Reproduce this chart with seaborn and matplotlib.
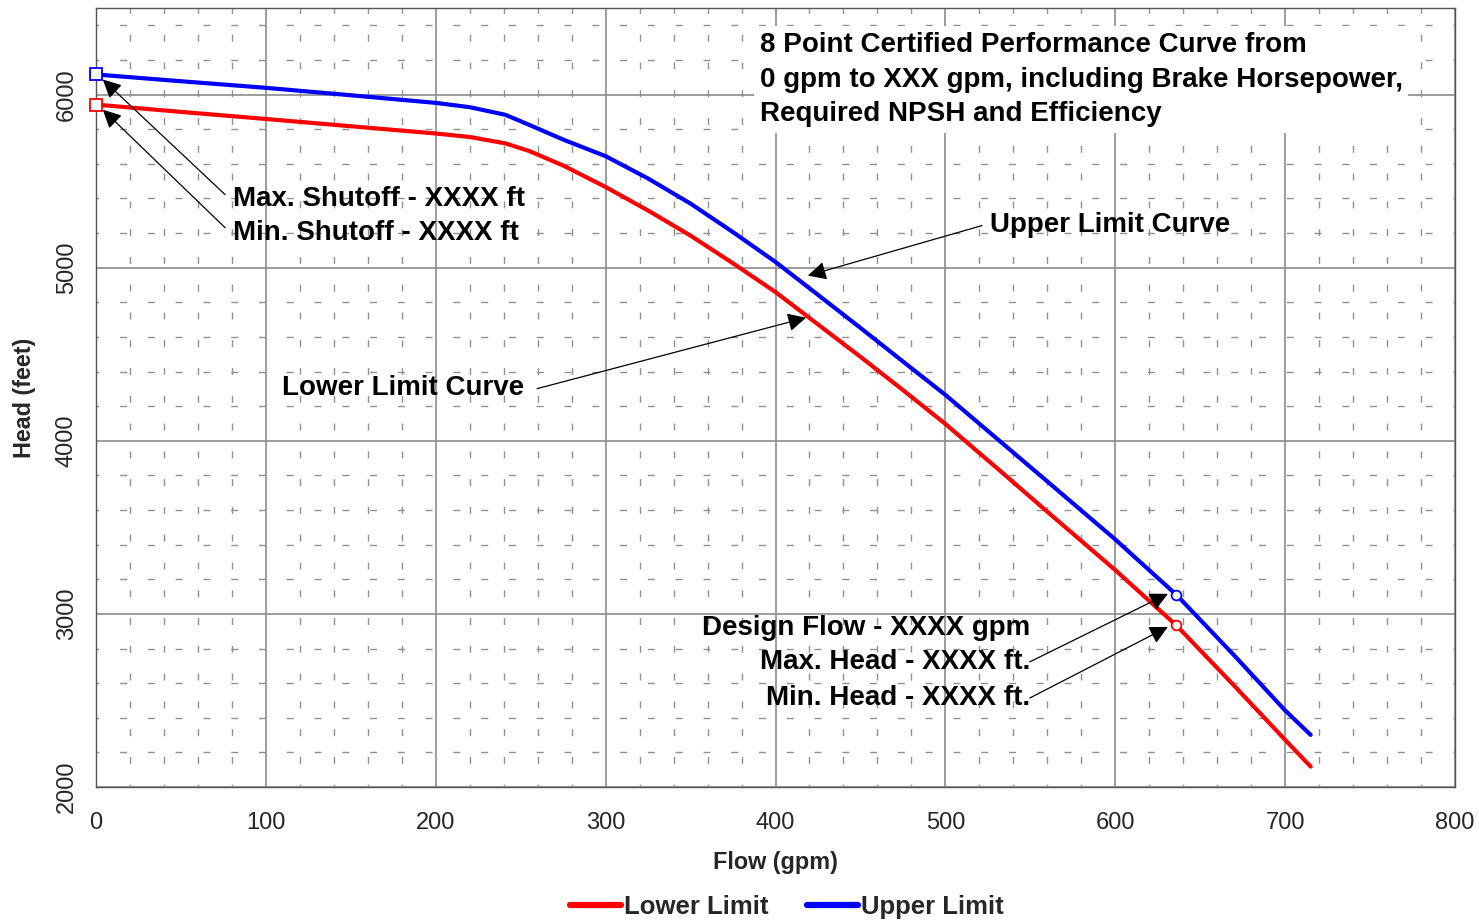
import numpy as np
import pandas as pd

import matplotlib
matplotlib.use('Agg')
import matplotlib.pyplot as plt
from matplotlib.ticker import MultipleLocator
import seaborn as sns

sns.set_style('white')
plt.rcParams['font.family'] = ['Liberation Sans', 'DejaVu Sans']

# ── Data ──────────────────────────────────────────────────────────────────────
flow_gpm   = [0, 50, 100, 150, 200, 220, 241, 255, 275, 300, 325, 350, 375,
              400, 425, 450, 475, 500, 530, 560, 600, 636, 670, 700, 715]
upper_head = [6116, 6077, 6039, 5996, 5952, 5927, 5883, 5825, 5740, 5644, 5515,
              5370, 5205, 5033, 4843, 4652, 4458, 4265, 4015, 3765, 3430, 3110,
              2760, 2442, 2301]
lower_head = [5942, 5900, 5859, 5817, 5775, 5755, 5718, 5674, 5590, 5466, 5330,
              5185, 5025, 4859, 4672, 4485, 4293, 4097, 3845, 3590, 3253, 2933,
              2585, 2272, 2118]

shutoff_flow  = 0
design_flow   = 636
design_upper  = 3110
design_lower  = 2933

RED  = '#ff0000'
BLUE = '#0000ff'

df = pd.DataFrame({
    'flow':  flow_gpm * 2,
    'head':  upper_head + lower_head,
    'curve': ['Upper Limit'] * len(flow_gpm) + ['Lower Limit'] * len(flow_gpm),
})

fig = plt.figure(figsize=(14.79, 9.21), dpi=100)
ax = fig.add_axes([0.0649, 0.1455, 0.9189, 0.8458])

# grid: solid majors, sparse dashed minors
ax.xaxis.set_major_locator(MultipleLocator(100))
ax.xaxis.set_minor_locator(MultipleLocator(20))
ax.yaxis.set_major_locator(MultipleLocator(1000))
ax.yaxis.set_minor_locator(MultipleLocator(200))
ax.grid(which='major', color='#8c8c8c', linewidth=1.2, zorder=0)
ax.grid(which='minor', color='#909090', linewidth=1.0,
        linestyle=(3, (5, 15)), zorder=0)
ax.set_axisbelow(True)

sns.lineplot(data=df[df['curve'] == 'Lower Limit'], x='flow', y='head',
             color=RED, linewidth=3.0, ax=ax, label='Lower Limit', zorder=3)
sns.lineplot(data=df[df['curve'] == 'Upper Limit'], x='flow', y='head',
             color=BLUE, linewidth=3.0, ax=ax, label='Upper Limit', zorder=3)

# shutoff squares and design-point circles
ax.plot([shutoff_flow], [upper_head[0]], marker='s', ms=8, mfc='white',
        mec=BLUE, mew=1.3, zorder=5, clip_on=False)
ax.plot([shutoff_flow], [lower_head[0]], marker='s', ms=8, mfc='white',
        mec=RED, mew=1.3, zorder=5, clip_on=False)
ax.plot([design_flow], [design_upper], marker='o', ms=7, mfc='white',
        mec=BLUE, mew=1.3, zorder=5)
ax.plot([design_flow], [design_lower], marker='o', ms=7, mfc='white',
        mec=RED, mew=1.3, zorder=5)

ax.set_xlim(0, 800)
ax.set_ylim(2000, 6500)

for s in ax.spines.values():
    s.set_color('#555555')
    s.set_linewidth(1.0)

ax.tick_params(axis='x', which='major', labelsize=17, length=0, pad=18)
ax.tick_params(axis='x', which='minor', length=0)
ax.tick_params(axis='y', which='major', labelsize=17, length=10,
               direction='inout', pad=8, color='#333333')
ax.tick_params(axis='y', which='minor', length=5, direction='inout',
               color='#333333')
ax.set_yticks([2000, 3000, 4000, 5000, 6000])
for lab in ax.get_yticklabels():
    lab.set_rotation(90)
    lab.set_va('center')

ax.set_xlabel('Flow (gpm)', fontsize=16.8, fontweight='bold', labelpad=12)
ax.set_ylabel('Head (feet)', fontsize=16.8, fontweight='bold', labelpad=14)

# ── Annotations ───────────────────────────────────────────────────────────────
ann_font = dict(fontsize=20, fontweight='bold', color='black')
arrow = dict(arrowstyle='-|>', color='black', lw=0.9,
             mutation_scale=28, shrinkA=0, shrinkB=0)

ax.annotate('', xy=(4, 6087), xytext=(76, 5422), arrowprops=arrow, zorder=6)
ax.annotate('', xy=(4, 5913), xytext=(76, 5231), arrowprops=arrow, zorder=6)
ax.text(80.6, 5399, 'Max. Shutoff - XXXX ft', ha='left', va='center', **ann_font)
ax.text(80.6, 5202, 'Min. Shutoff - XXXX ft', ha='left', va='center', **ann_font)

ax.annotate('', xy=(419, 4954), xytext=(521.5, 5243), arrowprops=arrow, zorder=6)
ax.text(526, 5249, 'Upper Limit Curve', ha='left', va='center', **ann_font)

ax.annotate('', xy=(418, 4711), xytext=(259.6, 4301), arrowprops=arrow, zorder=6)
ax.text(109.5, 4306, 'Lower Limit Curve', ha='left', va='center', **ann_font)

ax.annotate('', xy=(631, 3116), xytext=(549.7, 2723), arrowprops=arrow, zorder=6)
ax.annotate('', xy=(631, 2925), xytext=(549.7, 2514), arrowprops=arrow, zorder=6)
ax.text(549.7, 2919, 'Design Flow - XXXX gpm', ha='right', va='center', **ann_font)
ax.text(549.7, 2723, 'Max. Head - XXXX ft.', ha='right', va='center', **ann_font)
ax.text(549.7, 2514, 'Min. Head - XXXX ft.', ha='right', va='center', **ann_font)

ax.text(390.8, 6087,
        '8 Point Certified Performance Curve from\n'
        '0 gpm to XXX gpm, including Brake Horsepower,\n'
        'Required NPSH and Efficiency',
        ha='left', va='center', linespacing=1.43, zorder=6,
        bbox=dict(facecolor='white', edgecolor='none', pad=4),
        **ann_font)

# legend below the axes
ax.get_legend().remove()
handles, labels = ax.get_legend_handles_labels()
fig.legend(handles[:2], labels[:2], loc='lower center', ncol=2, frameon=False,
           bbox_to_anchor=(0.532, -0.023), fontsize=18.5, handlelength=2.0,
           handletextpad=0.1, columnspacing=1.5)
for t in fig.legends[0].get_texts():
    t.set_fontweight('bold')
for h in fig.legends[0].legend_handles:
    h.set_linewidth(4.5)

plt.savefig('out.png', dpi=100)
plt.close()
